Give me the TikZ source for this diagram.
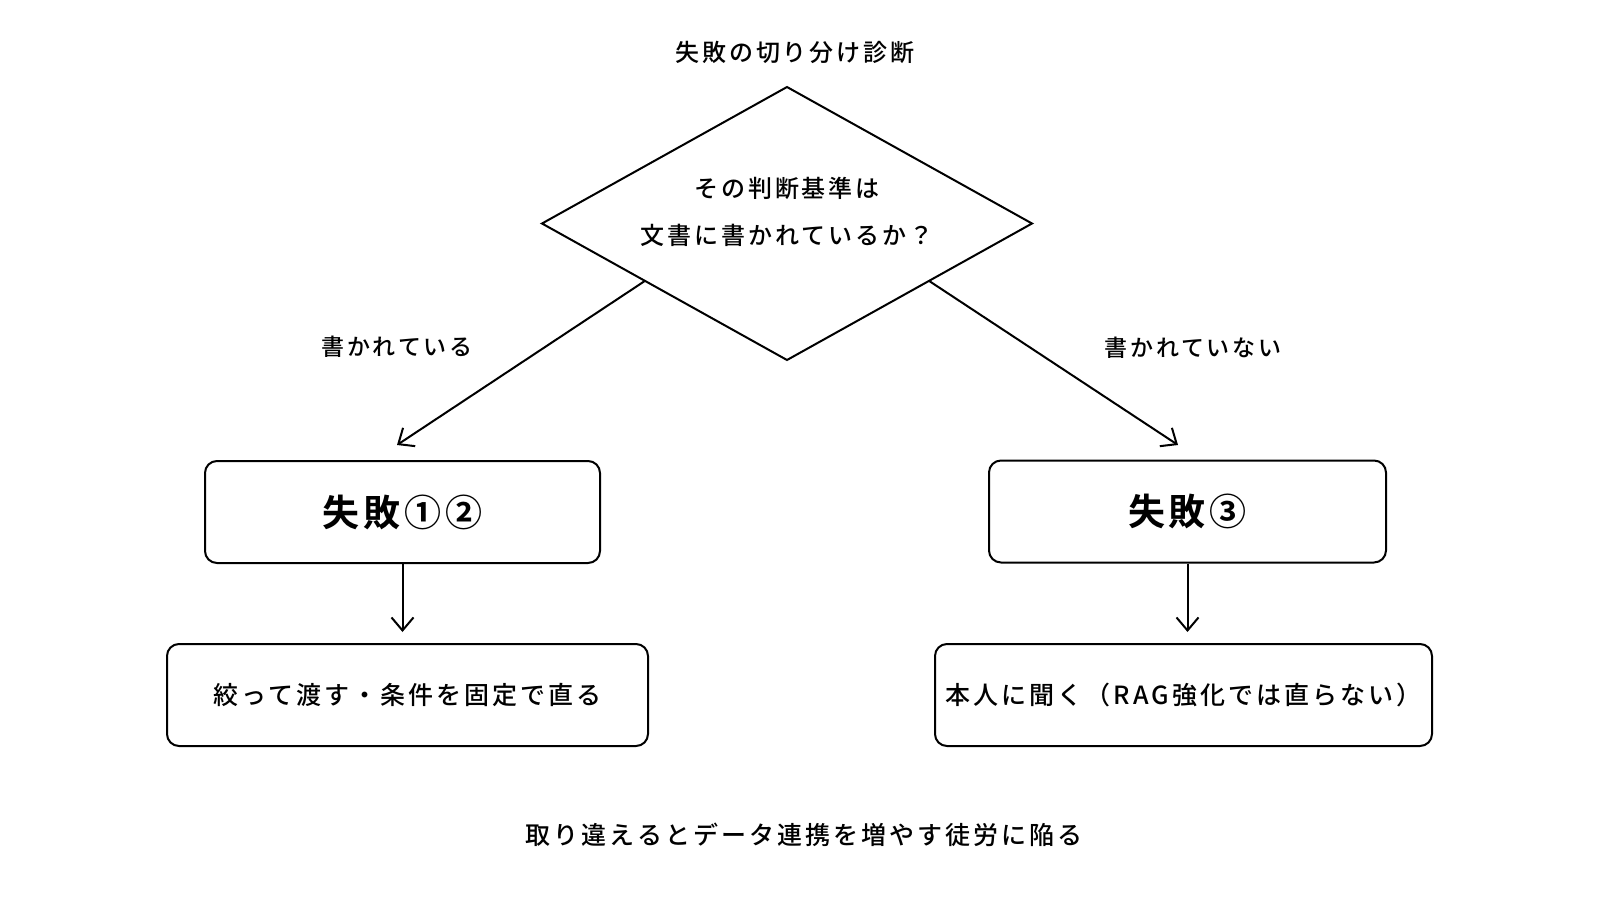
\documentclass[tikz,border=0pt]{standalone}
\usepackage{fontspec}
\usetikzlibrary{shapes.geometric,arrows.meta}
\newfontfamily\jpfont[LetterSpace=12]{Noto Sans CJK JP Medium}
\newfontfamily\jpbold[LetterSpace=10]{Noto Sans CJK JP Bold}

\begin{document}
\begin{tikzpicture}[x=1pt, y=-1pt]
    \tikzset{
        boxstyle/.style={draw, line width=2pt, rounded corners=12pt, minimum height=102pt,
            inner sep=0pt, font=\jpfont\fontsize{25}{30}\selectfont},
        casestyle/.style={boxstyle, font=\jpbold\fontsize{37}{44}\selectfont},
        linkstyle/.style={line width=2pt, -{Straight Barb[length=13pt, width=22pt]}},
        labelstyle/.style={font=\jpfont\fontsize{23}{28}\selectfont}
    }
    \useasboundingbox[fill=white] (0,0) rectangle (1600,900);

    % --- 1. 診断 ---
    \node[labelstyle, font=\jpfont\fontsize{24}{28}\selectfont] (title) at (795,52) {失敗の切り分け診断};
    \node[draw, diamond, aspect=1.795, line width=2pt, minimum width=490pt, minimum height=273pt,
          inner sep=0pt, outer sep=0pt, align=center,
          font=\jpfont\fontsize{24}{47}\selectfont] (dia) at (787,223.5)
        {その判断基準は\\文書に書かれているか？\rule[-25pt]{0pt}{25pt}};

    % --- 2. 分岐 ---
    \coordinate (tipL) at (397,445);
    \coordinate (tipR) at (1178,445);
    \draw[linkstyle] (dia.202) -- (tipL);
    \draw[linkstyle] (dia.338) -- (tipR);
    \node[labelstyle] (lblL) at (397,347) {書かれている};
    \node[labelstyle] (lblR) at (1193,348) {書かれていない};

    % --- 3. 失敗の種類 ---
    \node[casestyle, minimum width=395pt] (f12) at (402.5,512) {失敗①②};
    \node[casestyle, minimum width=397pt] (f3) at (1187.5,511.5) {失敗③};

    % --- 4. 対処 ---
    \node[boxstyle, minimum width=481pt] (fix12) at (407.5,695) {絞って渡す・条件を固定で直る};
    \node[boxstyle, minimum width=497pt] (fix3) at (1183.5,695) {本人に聞く（RAG強化では直らない）};

    \draw[linkstyle, shorten >=11pt] (f12.south) -- (f12.south |- fix12.north);
    \draw[linkstyle, shorten >=11pt] (f3.south) -- (f3.south |- fix3.north);

    \node[labelstyle, font=\jpfont\fontsize{25}{30}\selectfont] (note) at (804,835) {取り違えるとデータ連携を増やす徒労に陥る};
\end{tikzpicture}
\end{document}
